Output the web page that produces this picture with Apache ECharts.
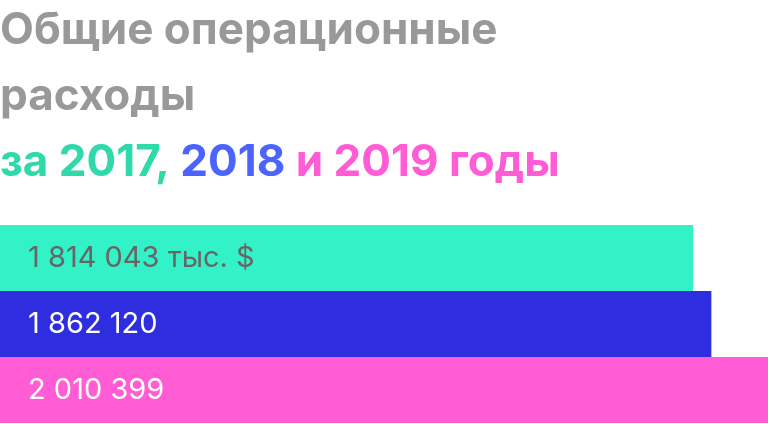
<!DOCTYPE html>
<html>
<head>
<meta charset="utf-8">
<script src="https://cdn.jsdelivr.net/npm/echarts@6/dist/echarts.min.js"></script>
<style>
  html, body { margin: 0; padding: 0; background: #fff; }
  #chart { width: 768px; height: 424px; }
</style>
</head>
<body>
<div id="chart"></div>
<script>
// values, thousand USD
const years = ['2017', '2018', '2019'];
const expenses = [1814043, 1862120, 2010399];
const barColors = ['#33f2c8', '#2e2ee0', '#ff5cd6'];
const labelColors = ['#666666', '#ffffff', '#ffffff'];
const unitSuffix = ' тыс. $';

const titleFont = 'Inter, "Noto Sans", sans-serif';

// 1814043 -> "1 814 043"
function spaced(n) {
    return String(n).replace(/\B(?=(\d{3})+(?!\d))/g, ' ');
}

const chart = echarts.init(document.getElementById('chart'));

const line = { fontFamily: titleFont, fontWeight: 700, fontSize: 44, lineHeight: 66 };

chart.setOption({
    animation: false,
    title: {
        left: 0,
        top: -2,
        padding: 0,
        text: '{g|Общие операционные}\n{g|расходы}\n{a|за 2017, }{b|2018}{c| и 2019 годы}',
        textStyle: {
            rich: {
                g: Object.assign({ color: '#999999' }, line),
                a: Object.assign({ color: '#2fd9aa' }, line),
                b: Object.assign({ color: '#4b63ff' }, line),
                c: Object.assign({ color: '#ff5cd6' }, line)
            }
        }
    },
    grid: { left: 0, right: 0, top: 225, bottom: 1, containLabel: false },
    xAxis: {
        type: 'value',
        min: 0,
        max: 'dataMax',
        show: false
    },
    yAxis: {
        type: 'category',
        data: years,
        inverse: true,
        show: false
    },
    series: [{
        type: 'bar',
        data: expenses.map((v, i) => ({
            value: v,
            itemStyle: { color: barColors[i] },
            label: { color: labelColors[i] }
        })),
        barCategoryGap: 0,
        label: {
            show: true,
            position: 'insideLeft',
            distance: 28,
            fontFamily: titleFont,
            fontSize: 29,
            fontWeight: 400,
            formatter: p => spaced(p.value) + (p.dataIndex === 0 ? unitSuffix : '')
        }
    }]
});
</script>
</body>
</html>
